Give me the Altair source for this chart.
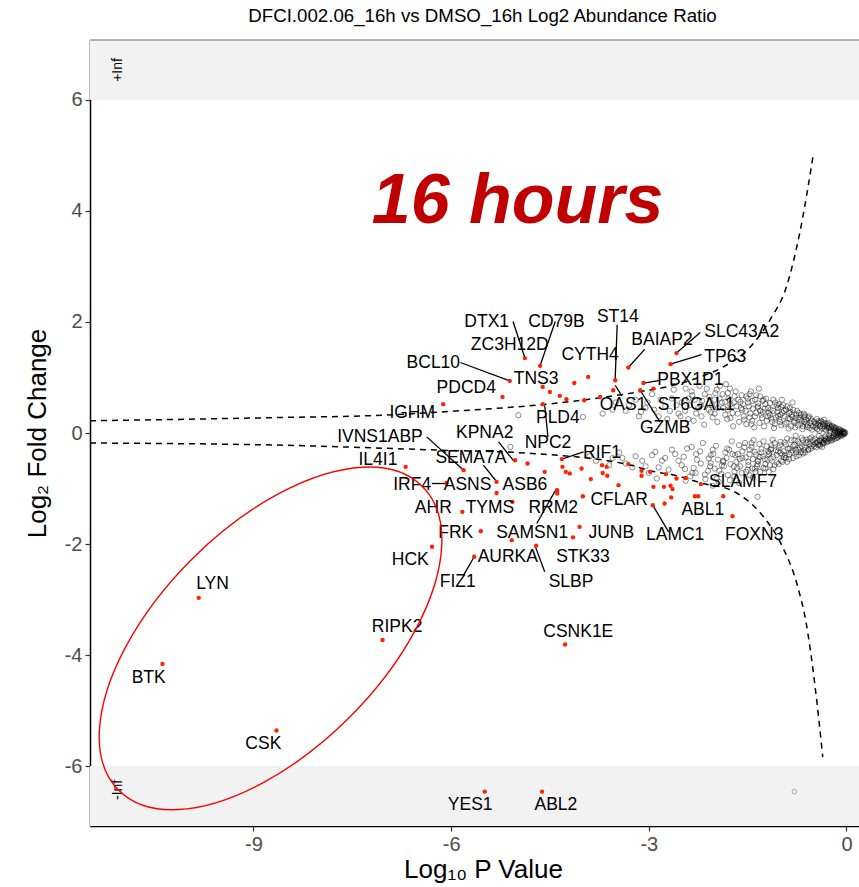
import altair as alt
import pandas as pd

# ---------------- data ----------------
# significant proteins (red)
red_x = [-4.88, -4.65, -5.11, -5.22, -6.12, -4.61, -4.50, -4.35, -4.25, -4.13,
         -3.92, -3.98, -3.74, -3.51, -3.54, -3.31, -2.58, -2.67, -3.08, -2.93,
         -3.13, -4.61, -6.69, -5.81, -6.07, -5.31, -5.31, -5.03, -4.84, -4.32,
         -4.31, -4.26, -4.20, -4.02, -4.58, -3.71, -3.64, -3.70, -3.63, -3.31,
         -3.88, -3.46, -3.11, -2.98, -3.11, -2.74, -2.58, -2.44, -2.93, -2.77,
         -2.67, -2.64, -2.21, -2.25, -2.30, -1.87, -2.66, -2.76, -2.94, -1.73,
         -4.00, -5.07, -5.83, -5.55, -5.08, -4.39, -4.39, -4.05, -4.15, -4.71,
         -5.65, -6.29, -7.04, -4.27, -9.83, -10.38, -8.65, -5.49, -4.62]
red_y = [1.35, 1.21, 0.94, 0.65, 0.52, 0.83, 0.74, 0.67, 0.61, 0.90,
         1.01, 0.59, 0.65, 0.95, 0.77, 1.18, 1.44, 1.24, 0.90, 0.80,
         0.77, 0.52, -0.61, -0.67, -0.90, -0.88, -1.08, -0.49, -0.55, -0.47,
         -0.61, -0.70, -0.73, -0.64, -0.70, -0.58, -0.61, -0.72, -0.77, -0.56,
         -0.83, -0.94, -0.68, -0.70, -0.77, -0.74, -0.82, -0.81, -0.97, -0.97,
         -0.95, -1.01, -0.92, -1.14, -1.14, -1.14, -1.16, -1.27, -1.30, -1.50,
         -1.14, -1.24, -1.42, -1.77, -1.93, -1.03, -1.09, -1.69, -1.88, -2.03,
         -2.23, -2.05, -3.73, -3.81, -2.97, -4.16, -5.36, -6.46, -6.46]

# gene labels
label_text = ["DTX1", "CD79B", "ZC3H12D", "ST14", "BAIAP2", "SLC43A2", "TP63",
              "CYTH4", "BCL10", "TNS3", "PDCD4", "PBX1P1", "IGHM", "OAS1",
              "ST6GAL1", "PLD4", "GZMB", "KPNA2", "NPC2", "RIF1", "IVNS1ABP",
              "SEMA7A", "IL4I1", "IRF4", "ASNS", "ASB6", "AHR", "TYMS", "RRM2",
              "CFLAR", "SLAMF7", "ABL1", "FRK", "SAMSN1", "JUNB", "LAMC1",
              "FOXN3", "HCK", "AURKA", "STK33", "FIZ1", "SLBP", "LYN", "BTK",
              "CSK", "RIPK2", "CSNK1E", "YES1", "ABL2"]
label_x = [-5.46, -4.40, -5.11, -3.47, -2.80, -1.59, -1.84,
           -3.89, -6.27, -4.71, -5.77, -2.37, -6.59, -3.39,
           -2.28, -4.38, -2.75, -5.49, -4.53, -3.71, -7.08,
           -5.70, -7.11, -6.59, -5.75, -4.88, -6.27, -5.41, -4.45,
           -3.45, -1.57, -2.18, -5.93, -4.77, -3.57, -2.60,
           -1.40, -6.62, -5.14, -4.00, -5.90, -4.18, -9.62, -10.59,
           -8.85, -6.82, -4.07, -5.71, -4.41]
label_y = [2.00, 2.00, 1.59, 2.09, 1.68, 1.82, 1.37,
           1.41, 1.26, 0.97, 0.81, 0.95, 0.36, 0.50,
           0.50, 0.27, 0.09, 0.00, -0.18, -0.36, -0.07,
           -0.45, -0.49, -0.94, -0.94, -0.94, -1.35, -1.35, -1.35,
           -1.21, -0.88, -1.39, -1.80, -1.80, -1.80, -1.84,
           -1.84, -2.29, -2.23, -2.23, -2.68, -2.68, -2.72, -4.41,
           -5.60, -3.50, -3.59, -6.70, -6.70]

# label leader segments
seg_x1 = [-5.06, -4.42, -5.86, -3.48, -3.51, -3.06, -2.22, -2.20, -2.83, -2.83,
          -4.58, -5.28, -3.99, -6.37, -5.51, -6.29, -4.70, -2.94, -5.81, -4.58]
seg_y1 = [2.01, 2.01, 1.27, 1.95, 0.86, 1.51, 1.81, 1.41, 0.95, 0.20,
          0.50, -0.16, -0.34, -0.07, -0.58, -0.91, -1.63, -1.30, -2.56, -2.50]
seg_x2 = [-4.88, -4.65, -5.11, -3.51, -3.41, -3.31, -2.58, -2.67, -3.08, -3.13,
          -4.53, -5.06, -4.32, -5.81, -5.32, -6.04, -4.40, -2.70, -5.65, -4.73]
seg_y2 = [1.35, 1.21, 0.94, 0.97, 0.67, 1.18, 1.44, 1.24, 0.90, 0.77,
          -0.07, -0.49, -0.47, -0.67, -0.86, -0.91, -1.00, -1.78, -2.23, -2.02]

# significance threshold curves (dashed)
upper_x = [-11.48, -8.56, -7.05, -6.14, -4.02, -3.01, -2.73, -2.22, -1.87,
           -1.46, -1.16, -0.91, -0.71, -0.50]
upper_y = [0.22, 0.28, 0.32, 0.38, 0.59, 0.77, 0.83, 1.01, 1.19,
           1.55, 2.04, 2.64, 3.60, 5.04]
lower_x = [-11.48, -8.56, -6.14, -4.89, -3.27, -3.01, -2.51, -2.21, -1.75,
           -1.26, -1.00, -0.74, -0.62, -0.47, -0.36]
lower_y = [-0.18, -0.22, -0.31, -0.36, -0.58, -0.67, -0.79, -0.90, -1.03,
           -1.51, -1.98, -2.77, -3.37, -4.63, -5.84]

# non-significant proteins (grey open circles)
gray_points = [
    (-0.02, 0.01), (-0.03, -0.02), (-0.05, 0.03), (-0.06, -0.04), (-0.08, 0.05),
    (-0.09, -0.06), (-0.10, 0.02), (-0.11, -0.03), (-0.12, 0.07), (-0.13, -0.08),
    (-0.15, 0.04), (-0.16, -0.05), (-0.17, 0.10), (-0.18, -0.11), (-0.20, 0.06),
    (-0.21, -0.07), (-0.22, 0.13), (-0.23, -0.14), (-0.25, 0.03), (-0.26, -0.04),
    (-0.27, 0.09), (-0.28, -0.10), (-0.29, 0.16), (-0.30, -0.17), (-0.31, 0.05),
    (-0.32, -0.06), (-0.33, 0.12), (-0.34, -0.13), (-0.35, 0.19), (-0.36, -0.20),
    (-0.37, 0.08), (-0.38, -0.09), (-0.39, 0.22), (-0.40, -0.23), (-0.41, 0.04),
    (-0.42, -0.05), (-0.43, 0.15), (-0.44, -0.16), (-0.45, 0.25), (-0.46, -0.26),
    (-0.47, 0.10), (-0.48, -0.11), (-0.49, 0.20), (-0.50, -0.21), (-0.14, 0.00),
    (-0.24, 0.01), (-0.07, 0.00), (-0.19, -0.01), (-0.27, 0.18), (-0.44, 0.07),
    (-0.41, -0.14), (-0.34, 0.24), (-0.37, -0.25),
    (-0.04, 0.02), (-0.06, 0.01), (-0.09, 0.04), (-0.11, 0.06), (-0.13, 0.03),
    (-0.16, 0.08), (-0.18, 0.05), (-0.20, 0.11), (-0.23, 0.08), (-0.26, 0.14),
    (-0.29, 0.10), (-0.32, 0.17), (-0.35, 0.13), (-0.38, 0.20), (-0.42, 0.18),
    (-0.46, 0.14), (-0.04, -0.01), (-0.08, -0.03), (-0.12, -0.05), (-0.15, -0.09),
    (-0.19, -0.06), (-0.22, -0.12), (-0.25, -0.09), (-0.28, -0.15), (-0.31, -0.11),
    (-0.34, -0.18), (-0.38, -0.15), (-0.41, -0.21), (-0.45, -0.18), (-0.49, -0.24),
    (-0.03, 0.00), (-0.05, -0.01), (-0.08, 0.02), (-0.10, -0.02), (-0.12, 0.01),
    (-0.14, -0.03), (-0.17, 0.03), (-0.19, 0.09), (-0.21, -0.09), (-0.24, 0.11),
    (-0.26, -0.12), (-0.29, 0.13), (-0.31, -0.14),
    (-0.52, 0.06), (-0.53, -0.08), (-0.55, 0.18), (-0.56, -0.20), (-0.57, 0.30),
    (-0.58, -0.31), (-0.60, 0.11), (-0.61, -0.12), (-0.62, 0.24), (-0.63, -0.26),
    (-0.65, 0.35), (-0.66, -0.37), (-0.67, 0.07), (-0.68, -0.09), (-0.70, 0.17),
    (-0.71, -0.19), (-0.72, 0.28), (-0.73, -0.30), (-0.75, 0.40), (-0.76, -0.42),
    (-0.78, 0.10), (-0.79, -0.13), (-0.80, 0.22), (-0.81, -0.24), (-0.83, 0.33),
    (-0.84, -0.35), (-0.86, 0.45), (-0.87, -0.47), (-0.88, 0.08), (-0.90, -0.10),
    (-0.91, 0.19), (-0.92, -0.21), (-0.94, 0.30), (-0.95, -0.33), (-0.96, 0.50),
    (-0.97, -0.52), (-0.99, 0.14), (-1.00, -0.16), (-1.02, 0.25), (-1.03, -0.27),
    (-1.05, 0.38), (-1.06, -0.40), (-1.08, 0.55), (-1.09, -0.58), (-1.10, 0.09),
    (-1.12, -0.12), (-1.13, 0.20), (-1.14, -0.22), (-1.16, 0.32), (-1.17, -0.35),
    (-1.19, 0.45), (-1.20, -0.48), (-1.22, 0.62), (-1.23, -0.64), (-1.25, 0.12),
    (-1.26, -0.15), (-1.28, 0.27), (-1.29, -0.29), (-1.31, 0.40), (-1.32, -0.43),
    (-1.34, 0.53), (-1.35, -0.56), (-1.37, 0.68), (-1.38, -0.70), (-1.40, 0.10),
    (-1.41, -0.13), (-1.43, 0.22), (-1.44, -0.25), (-1.46, 0.35), (-1.47, -0.38),
    (-1.48, 0.48), (-1.49, -0.52), (-1.50, 0.62), (-1.50, -0.66), (-0.64, 0.20),
    (-0.77, -0.05), (-0.85, 0.38), (-0.93, -0.40), (-1.04, 0.45), (-1.15, -0.30),
    (-1.27, 0.58), (-1.36, -0.60), (-1.45, 0.75), (-0.98, 0.60), (-1.18, -0.70),
    (-1.42, -0.80), (-0.82, 0.55), (-1.33, 0.80),
    (-0.54, 0.26), (-0.59, 0.14), (-0.63, 0.32), (-0.68, 0.22), (-0.72, 0.36),
    (-0.77, 0.27), (-0.81, 0.42), (-0.86, 0.25), (-0.90, 0.48), (-0.95, 0.40),
    (-1.00, 0.33), (-1.03, 0.52), (-1.07, 0.28), (-1.11, 0.60), (-1.15, 0.42),
    (-1.19, 0.30), (-1.23, 0.52), (-1.27, 0.38), (-1.31, 0.66), (-1.35, 0.46),
    (-1.39, 0.30), (-1.43, 0.58), (-1.47, 0.70), (-0.54, -0.28), (-0.59, -0.16),
    (-0.63, -0.35), (-0.68, -0.24), (-0.72, -0.40), (-0.77, -0.30), (-0.81, -0.45),
    (-0.86, -0.28), (-0.90, -0.52), (-0.95, -0.44), (-1.00, -0.36), (-1.03, -0.56),
    (-1.07, -0.31), (-1.11, -0.65), (-1.15, -0.46), (-1.19, -0.33), (-1.23, -0.56),
    (-1.27, -0.42), (-1.31, -0.70), (-1.35, -0.50), (-1.39, -0.34), (-1.43, -0.64),
    (-1.47, -0.76),
    (-0.33, 0.07), (-0.36, 0.16), (-0.40, 0.12), (-0.43, 0.21), (-0.47, 0.17),
    (-0.51, 0.12), (-0.53, 0.22), (-0.56, 0.09), (-0.58, 0.27), (-0.61, 0.17),
    (-0.64, 0.29), (-0.66, 0.12), (-0.69, 0.33), (-0.71, 0.24), (-0.74, 0.14),
    (-0.76, 0.33), (-0.79, 0.19), (-0.82, 0.29), (-0.84, 0.12), (-0.87, 0.36),
    (-0.89, 0.26), (-0.92, 0.42), (-0.94, 0.16), (-0.97, 0.36), (-0.99, 0.47),
    (-1.01, 0.20), (-1.04, 0.31), (-1.06, 0.50), (-1.09, 0.16), (-1.11, 0.40),
    (-1.14, 0.26), (-1.16, 0.54), (-1.18, 0.36), (-1.21, 0.22), (-1.24, 0.44),
    (-1.26, 0.60), (-1.29, 0.33), (-1.32, 0.18), (-1.34, 0.48), (-1.37, 0.36),
    (-1.39, 0.60), (-1.42, 0.44), (-1.44, 0.16), (-1.47, 0.28), (-1.49, 0.55),
    (-1.52, 0.66), (-1.55, 0.24), (-1.58, 0.42), (-1.61, 0.56), (-1.63, 0.20),
    (-1.67, 0.48), (-1.70, 0.66), (-1.73, 0.36), (-1.76, 0.52), (-1.80, 0.72),
    (-1.84, 0.33), (-1.89, 0.55), (-1.95, 0.45), (-2.00, 0.60), (-2.06, 0.38),
    (-0.33, -0.08), (-0.36, -0.17), (-0.40, -0.13), (-0.43, -0.22), (-0.47, -0.18),
    (-0.51, -0.13), (-0.53, -0.24), (-0.56, -0.10), (-0.58, -0.29), (-0.61, -0.18),
    (-0.64, -0.31), (-0.66, -0.13), (-0.69, -0.35), (-0.71, -0.26), (-0.74, -0.15),
    (-0.76, -0.35), (-0.79, -0.21), (-0.82, -0.31), (-0.84, -0.13), (-0.87, -0.39),
    (-0.89, -0.28), (-0.92, -0.45), (-0.94, -0.17), (-0.97, -0.39), (-0.99, -0.50),
    (-1.01, -0.22), (-1.04, -0.33), (-1.06, -0.53), (-1.09, -0.18), (-1.11, -0.43),
    (-1.14, -0.28), (-1.16, -0.58), (-1.18, -0.38), (-1.21, -0.24), (-1.24, -0.47),
    (-1.26, -0.63), (-1.29, -0.35), (-1.32, -0.20), (-1.34, -0.51), (-1.37, -0.39),
    (-1.39, -0.64), (-1.42, -0.47), (-1.44, -0.18), (-1.47, -0.30), (-1.49, -0.58),
    (-1.52, -0.70), (-1.55, -0.26), (-1.58, -0.45), (-1.61, -0.60), (-1.63, -0.22),
    (-1.67, -0.52), (-1.70, -0.70), (-1.73, -0.38), (-1.76, -0.56), (-1.80, -0.76),
    (-1.84, -0.35), (-1.89, -0.58), (-1.95, -0.48), (-2.00, -0.64), (-2.06, -0.40),
    (-1.52, 0.16), (-1.54, -0.18), (-1.56, 0.30), (-1.58, -0.33), (-1.60, 0.45),
    (-1.62, -0.47), (-1.64, 0.60), (-1.66, -0.63), (-1.68, 0.75), (-1.70, -0.78),
    (-1.72, 0.12), (-1.74, -0.15), (-1.76, 0.27), (-1.78, -0.30), (-1.80, 0.42),
    (-1.82, -0.45), (-1.84, 0.56), (-1.86, -0.60), (-1.88, 0.70), (-1.90, -0.74),
    (-1.92, 0.85), (-1.94, -0.88), (-1.96, 0.20), (-1.98, -0.23), (-2.00, 0.35),
    (-2.02, -0.38), (-2.04, 0.50), (-2.06, -0.54), (-2.08, 0.65), (-2.10, -0.68),
    (-2.12, 0.80), (-2.14, -0.83), (-2.16, 0.15), (-2.18, -0.18), (-2.20, 0.30),
    (-2.22, -0.33), (-2.25, 0.45), (-2.27, -0.48), (-2.30, 0.60), (-2.32, -0.63),
    (-2.35, 0.75), (-2.37, -0.78), (-2.40, 0.25), (-2.42, -0.28), (-2.45, 0.40),
    (-2.47, -0.43), (-2.50, 0.55), (-2.50, -0.58), (-1.57, 0.52), (-1.69, -0.40),
    (-1.79, 0.62), (-1.87, -0.52), (-1.99, 0.72), (-2.07, -0.60), (-2.19, 0.58),
    (-2.29, -0.72), (-2.38, 0.50), (-1.63, -0.90), (-1.83, 0.88), (-2.03, -0.95),
    (-2.23, 0.85),
    (-1.53, 0.40), (-1.59, 0.68), (-1.65, 0.35), (-1.71, 0.55), (-1.77, 0.80),
    (-1.81, 0.25), (-1.87, 0.45), (-1.93, 0.62), (-1.97, 0.78), (-2.03, 0.28),
    (-2.09, 0.42), (-2.15, 0.70), (-2.21, 0.50), (-2.28, 0.35), (-2.34, 0.68),
    (-2.44, 0.80), (-1.53, -0.44), (-1.59, -0.72), (-1.65, -0.38), (-1.71, -0.60),
    (-1.77, -0.85), (-1.81, -0.28), (-1.87, -0.50), (-1.93, -0.68), (-1.97, -0.82),
    (-2.03, -0.30), (-2.09, -0.46), (-2.15, -0.75), (-2.21, -0.55), (-2.28, -0.38),
    (-2.34, -0.72), (-2.44, -0.86),
    (-2.55, 0.35), (-2.60, -0.38), (-2.65, 0.62), (-2.70, -0.66), (-2.75, 0.48),
    (-2.80, -0.50), (-2.85, 0.30), (-2.90, -0.34), (-2.95, 0.70), (-3.00, -0.72),
    (-3.05, 0.45), (-3.10, -0.50), (-3.20, 0.60), (-3.25, -0.62), (-3.35, 0.40),
    (-3.40, -0.45), (-3.50, 0.55), (-3.60, -0.58), (-3.70, 0.35), (-3.80, -0.50),
    (-2.62, 0.78), (-2.88, -0.82), (-3.15, 0.30), (-3.45, -0.35), (-4.00, 0.29),
    (-4.98, 0.32), (-5.10, -0.25), (-1.35, -1.15),
    (-2.32, 0.22), (-2.40, 0.62), (-2.52, 0.30), (-2.58, 0.50), (-2.68, 0.40),
    (-2.72, 0.25), (-2.82, 0.60), (-2.92, 0.42), (-3.02, 0.55), (-3.12, 0.38),
    (-3.30, 0.50), (-3.55, 0.42), (-2.35, -0.25), (-2.45, -0.65), (-2.55, -0.50),
    (-2.65, -0.30), (-2.75, -0.45), (-2.85, -0.62), (-2.95, -0.40), (-3.05, -0.60),
    (-3.20, -0.42), (-3.35, -0.55), (-3.55, -0.45), (-3.90, -0.42),
]
gray_inf_x = [-0.79]
gray_inf_y = [-6.46]

# +Inf / -Inf strips
band_lo = [6.0, -7.08]
band_hi = [7.08, -6.0]
inf_text = ["+Inf", "-Inf"]
inf_x = [-11.05, -11.05]
inf_y = [6.54, -6.43]

# annotations
note_text = ["16 hours"]
note_x = [-4.99]
note_y = [3.78]
ellipse_x = [-8.74]
ellipse_y = [-3.70]

XMIN, XMAX = -11.48, 0.19
YMIN, YMAX = -7.08, 7.08
W, H = 769, 786
FONT = "Liberation Sans"

# ---------------- chart ----------------
xs = alt.Scale(domain=[XMIN, XMAX], nice=False, zero=False)
ys = alt.Scale(domain=[YMIN, YMAX], nice=False, zero=False)
xaxis = alt.Axis(values=[-9, -6, -3, 0], title="Log₁₀ P Value", titleX=393,
                 titlePadding=2, labelExpr="toString(datum.value)")
yaxis = alt.Axis(values=[-6, -4, -2, 0, 2, 4, 6], title="Log₂ Fold Change",
                 titlePadding=14, labelExpr="toString(datum.value)")


def X(f):
    return alt.X(f, type="quantitative", scale=xs, axis=xaxis)


def Y(f):
    return alt.Y(f, type="quantitative", scale=ys, axis=yaxis)


bands = pd.DataFrame({"lo": band_lo, "hi": band_hi})
band_layer = alt.Chart(bands).mark_rect(color="#f2f2f2").encode(
    x=alt.value(0), x2=alt.value(W), y=Y("lo"), y2=alt.Y2("hi"))

top_line = alt.Chart(bands.head(1)).mark_rule(color="#9a9a9a", strokeWidth=1.5).encode(
    x=alt.value(0), x2=alt.value(W), y=alt.value(0))

curves = pd.concat([
    pd.DataFrame({"x": upper_x, "y": upper_y, "grp": "up"}),
    pd.DataFrame({"x": lower_x, "y": lower_y, "grp": "down"}),
])
curve_layer = alt.Chart(curves).mark_line(
    color="black", strokeDash=[6, 5], strokeWidth=1.5, interpolate="monotone"
).encode(x=X("x"), y=Y("y"), detail="grp:N")

gray_df = pd.DataFrame(gray_points, columns=["x", "y"])
gray_layer = alt.Chart(gray_df).mark_point(
    shape="circle", filled=False, size=28, strokeWidth=0.9, color="black", opacity=0.5
).encode(x=X("x"), y=Y("y"))

gray_inf_df = pd.DataFrame({"x": gray_inf_x, "y": gray_inf_y})
gray_inf_layer = alt.Chart(gray_inf_df).mark_point(
    shape="circle", filled=False, size=22, strokeWidth=0.8, color="#9a9a9a", opacity=1
).encode(x=X("x"), y=Y("y"))

red_df = pd.DataFrame({"x": red_x, "y": red_y})
red_layer = alt.Chart(red_df).mark_circle(color="#ff2200", size=19, opacity=1).encode(
    x=X("x"), y=Y("y"))

seg_df = pd.DataFrame({"x1": seg_x1, "y1": seg_y1, "x2": seg_x2, "y2": seg_y2})
seg_layer = alt.Chart(seg_df).mark_rule(color="black", strokeWidth=1.3).encode(
    x=X("x1"), y=Y("y1"), x2=alt.X2("x2"), y2=alt.Y2("y2"))

lab_df = pd.DataFrame({"t": label_text, "x": label_x, "y": label_y})
lab_layer = alt.Chart(lab_df).mark_text(
    font=FONT, fontSize=17.5, color="black", align="center", baseline="middle"
).encode(x=X("x"), y=Y("y"), text="t:N")

inf_df = pd.DataFrame({"t": inf_text, "x": inf_x, "y": inf_y})
inf_layer = alt.Chart(inf_df).mark_text(
    font=FONT, fontSize=14, angle=270, color="black", align="center", baseline="middle"
).encode(x=X("x"), y=Y("y"), text="t:N")

note_df = pd.DataFrame({"t": note_text, "x": note_x, "y": note_y})
note_layer = alt.Chart(note_df).mark_text(
    font=FONT, fontSize=70, fontWeight="bold", fontStyle="italic", color="#c00000",
    align="center", baseline="alphabetic"
).encode(x=X("x"), y=Y("y"), text="t:N")

ELLIPSE = ("M -0.7071 0.7071 A 1 0.518 -45 1 0 0.7071 -0.7071 "
           "A 1 0.518 -45 1 0 -0.7071 0.7071 Z")
ell_df = pd.DataFrame({"x": ellipse_x, "y": ellipse_y})
ell_layer = alt.Chart(ell_df).mark_point(
    shape=ELLIPSE, size=184384, filled=False, color="#ff0000", strokeWidth=1.4, opacity=1
).encode(x=X("x"), y=Y("y"))

chart = alt.layer(
    band_layer, top_line, curve_layer, gray_layer, gray_inf_layer, seg_layer,
    red_layer, lab_layer, inf_layer, note_layer, ell_layer
).properties(
    width=W, height=H,
    title=alt.TitleParams("DFCI.002.06_16h vs DMSO_16h Log2 Abundance Ratio",
                          font=FONT, fontSize=18.7, fontWeight="normal", color="black",
                          anchor="middle", dx=8, offset=14),
    padding={"left": 90, "top": 40, "right": 0, "bottom": 61},
    autosize="none",
).configure_view(stroke=None).configure_axis(
    grid=False, domainColor="black", domainWidth=1.5, tickColor="#333333",
    tickSize=5, tickWidth=1.2, labelFont=FONT, titleFont=FONT, labelFontSize=20,
    titleFontSize=26, labelColor="#4d4d4d", titleColor="black",
    titleFontWeight="normal", labelPadding=3
)

chart.save("out.html", embed_options={"renderer": "svg", "actions": False})
